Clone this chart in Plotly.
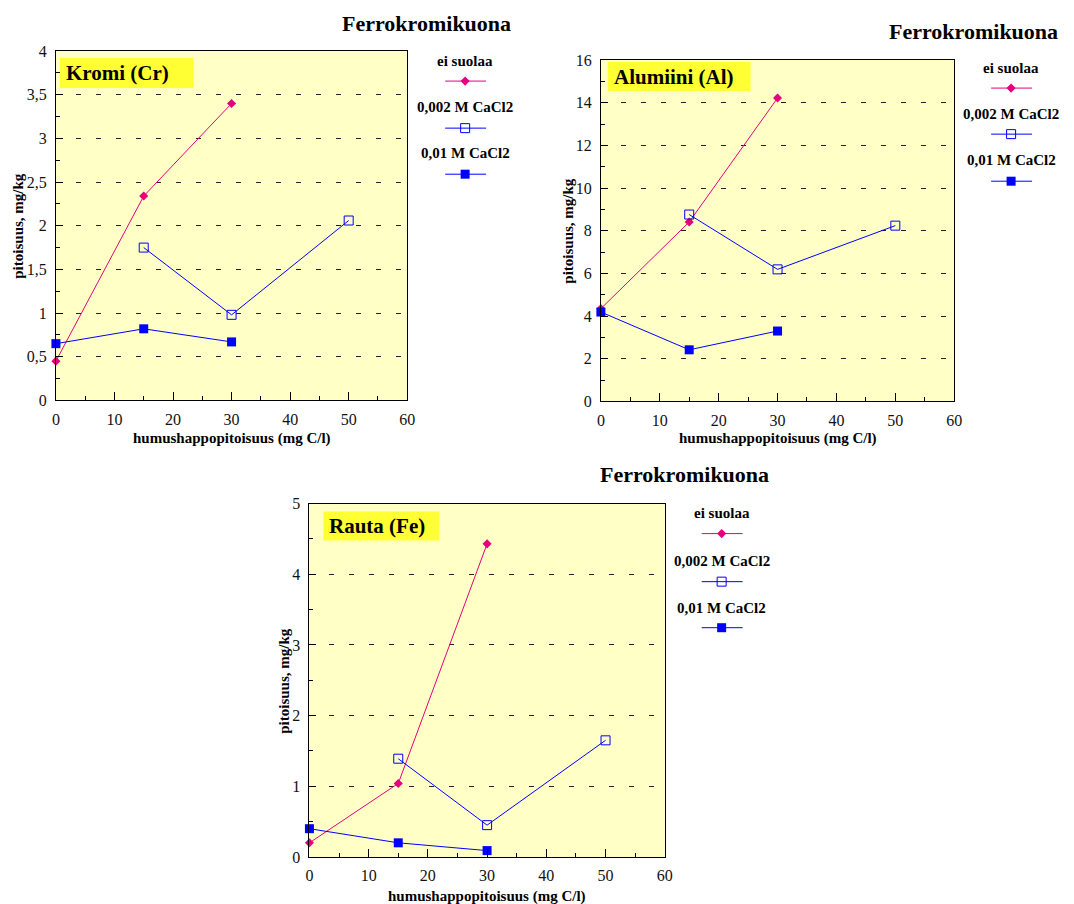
import plotly.graph_objects as go

W, H = 1074, 904

# Humic acid concentrations (mg C/l) for each extraction series
x_ei = [0, 15, 30]
x_002 = [15, 30, 50]
x_001 = [0, 15, 30]

# Chromium (Cr), mg/kg
cr_ei = [0.45, 2.34, 3.40]
cr_002 = [1.75, 0.98, 2.06]
cr_001 = [0.65, 0.82, 0.67]

# Aluminium (Al), mg/kg
al_ei = [4.35, 8.41, 14.22]
al_002 = [8.76, 6.19, 8.24]
al_001 = [4.19, 2.42, 3.30]

# Iron (Fe), mg/kg
fe_ei = [0.20, 1.04, 4.43]
fe_002 = [1.39, 0.45, 1.65]
fe_001 = [0.40, 0.20, 0.09]

series_names = ["ei suolaa", "0,002 M CaCl2", "0,01 M CaCl2"]
chart_title = "Ferrokromikuona"
x_title = "humushappopitoisuus (mg C/l)"
y_title = "pitoisuus, mg/kg"

x_tickvals = [0, 10, 20, 30, 40, 50, 60]
x_ticktext = ["0", "10", "20", "30", "40", "50", "60"]

cr_tickvals = [0, 0.5, 1, 1.5, 2, 2.5, 3, 3.5, 4]
cr_ticktext = ["0", "0,5", "1", "1,5", "2", "2,5", "3", "3,5", "4"]
al_tickvals = [0, 2, 4, 6, 8, 10, 12, 14, 16]
al_ticktext = ["0", "2", "4", "6", "8", "10", "12", "14", "16"]
fe_tickvals = [0, 1, 2, 3, 4, 5]
fe_ticktext = ["0", "1", "2", "3", "4", "5"]

PINK = "#E5007D"
BLUE = "#0000FF"
PLOT_BG = "#FFFFC6"
LABEL_BG = "#FFFF33"
SERIF = "Liberation Serif, Times New Roman, serif"

# the paper area sits slightly inside the figure; convert page pixels to paper units
PAPER_X0, PAPER_W = 3.0, 1064.0
PAPER_Y0, PAPER_H = 9.0, 886.0


def px(x):
    return (x - PAPER_X0) / PAPER_W


def py(y):
    return 1 - (y - PAPER_Y0) / PAPER_H


panels = [
    dict(ax="", name="Kromi (Cr)", box=(55, 52, 407, 401), yr=[0, 4],
         tv=cr_tickvals, tt=cr_ticktext, ym=0.25,
         data=(cr_ei, cr_002, cr_001),
         title_xy=(426, 24), leg_x=465, leg_y=(62, 82, 108, 129, 154, 175),
         label_box=(59, 59, 193, 89), ytitle_x=17, xtitle_y=439),
    dict(ax="2", name="Alumiini (Al)", box=(601, 61, 955, 402), yr=[0, 16],
         tv=al_tickvals, tt=al_ticktext, ym=1,
         data=(al_ei, al_002, al_001),
         title_xy=(974, 32), leg_x=1012, leg_y=(69, 89, 115, 135, 161, 182),
         label_box=(608, 63, 751, 92), ytitle_x=568, xtitle_y=439),
    dict(ax="3", name="Rauta (Fe)", box=(309, 504, 665, 857), yr=[0, 5],
         tv=fe_tickvals, tt=fe_ticktext, ym=0.5,
         data=(fe_ei, fe_002, fe_001),
         title_xy=(685, 475), leg_x=722, leg_y=(513, 534, 561, 582, 608, 628),
         label_box=(323, 512, 439, 541), ytitle_x=284, xtitle_y=896),
]

fig = go.Figure()
shapes = []
annotations = []

styles = [
    dict(xs=x_ei, line=dict(color=PINK, width=1),
         marker=dict(symbol="diamond", size=7, color=PINK)),
    dict(xs=x_002, line=dict(color=BLUE, width=1),
         marker=dict(symbol="square-open", size=9, color=BLUE, line=dict(width=1, color=BLUE))),
    dict(xs=x_001, line=dict(color=BLUE, width=1),
         marker=dict(symbol="square", size=9, color=BLUE)),
]

tick_font = dict(family=SERIF, size=16, color="#111")
bold = dict(family=SERIF, size=15, color="#000")

for p in panels:
    ax = p["ax"]
    x0, y0, x1, y1 = p["box"]
    xa = "xaxis" + ax
    ya = "yaxis" + ax
    xref = "x" + ax
    yref = "y" + ax

    for vals, st, nm in zip(p["data"], styles, series_names):
        fig.add_trace(go.Scatter(
            x=st["xs"], y=vals, name=nm, mode="lines+markers",
            line=st["line"], marker=st["marker"], cliponaxis=False,
            xaxis=xref, yaxis=yref, showlegend=False))

    fig.update_layout(**{
        xa: dict(domain=[px(x0), px(x1)], range=[0, 60], anchor=yref,
                 tickvals=x_tickvals, ticktext=x_ticktext,
                 ticks="inside", ticklen=8, tickcolor="#000",
                 minor=dict(dtick=5, tick0=0, ticks="inside", ticklen=4, tickcolor="#000"),
                 showgrid=False, zeroline=False, showline=True, linecolor="#000",
                 linewidth=1, mirror=True, tickfont=tick_font, ticklabelstandoff=4),
        ya: dict(domain=[py(y1), py(y0)], range=p["yr"], anchor=xref,
                 tickvals=p["tv"], ticktext=p["tt"],
                 ticks="inside", ticklen=7, tickcolor="#000",
                 minor=dict(dtick=p["ym"], tick0=0, ticks="inside", ticklen=4,
                            tickcolor="#000", showgrid=False),
                 showgrid=True, gridcolor="#222", gridwidth=1, griddash="5px,15px",
                 zeroline=False, showline=True, linecolor="#000", linewidth=1,
                 mirror=True, tickfont=tick_font, ticklabelstandoff=5),
    })

    # pale yellow plot area
    shapes.append(dict(type="rect", xref=xref + " domain", yref=yref + " domain",
                       x0=0, x1=1, y0=0, y1=1, fillcolor=PLOT_BG,
                       line=dict(width=0), layer="below"))

    # element label box
    bx0, by0, bx1, by1 = p["label_box"]
    shapes.append(dict(type="rect", xref="paper", yref="paper",
                       x0=px(bx0), x1=px(bx1), y0=py(by1), y1=py(by0),
                       fillcolor=LABEL_BG, line=dict(width=0), layer="below"))
    annotations.append(dict(text="<b>%s</b>" % p["name"], xref="paper", yref="paper",
                            x=px(bx0 + 4), y=py((by0 + by1) / 2), xanchor="left",
                            yanchor="middle", showarrow=False,
                            font=dict(family=SERIF, size=21, color="#000")))

    # chart title
    tx, ty = p["title_xy"]
    annotations.append(dict(text="<b>%s</b>" % chart_title, xref="paper", yref="paper",
                            x=px(tx), y=py(ty), xanchor="center", yanchor="middle",
                            showarrow=False, font=dict(family=SERIF, size=22, color="#000")))

    # axis titles
    annotations.append(dict(text="<b>%s</b>" % x_title, xref="paper", yref="paper",
                            x=px((x0 + x1) / 2), y=py(p["xtitle_y"]), xanchor="center",
                            yanchor="middle", showarrow=False, font=bold))
    annotations.append(dict(text="<b>%s</b>" % y_title, xref="paper", yref="paper",
                            x=px(p["ytitle_x"]), y=py((y0 + y1) / 2), xanchor="center",
                            yanchor="middle", textangle=-90, showarrow=False, font=bold))

    # legend: name above, line sample with marker below
    lx = p["leg_x"]
    ly = p["leg_y"]
    for i, (nm, st) in enumerate(zip(series_names, styles)):
        annotations.append(dict(text="<b>%s</b>" % nm, xref="paper", yref="paper",
                                x=px(lx), y=py(ly[2 * i]), xanchor="center",
                                yanchor="middle", showarrow=False, font=bold))
        sy = ly[2 * i + 1]
        fig.add_trace(go.Scatter(x=[px(lx - 20), px(lx + 21)], y=[py(sy), py(sy)],
                                 mode="lines", line=st["line"], xaxis="x4", yaxis="y4",
                                 showlegend=False, hoverinfo="skip"))
        fig.add_trace(go.Scatter(x=[px(lx)], y=[py(sy)], mode="markers", marker=st["marker"],
                                 xaxis="x4", yaxis="y4", showlegend=False,
                                 hoverinfo="skip", cliponaxis=False))

fig.update_layout(
    xaxis4=dict(domain=[0, 1], range=[0, 1], visible=False, anchor="y4"),
    yaxis4=dict(domain=[0, 1], range=[0, 1], visible=False, anchor="x4"),
    width=W, height=H,
    margin=dict(l=0, r=0, t=0, b=0),
    paper_bgcolor="#FFFFFF",
    plot_bgcolor="rgba(0,0,0,0)",
    shapes=shapes,
    annotations=annotations,
    showlegend=False,
    font=dict(family=SERIF),
)

fig.write_html("out.html")
